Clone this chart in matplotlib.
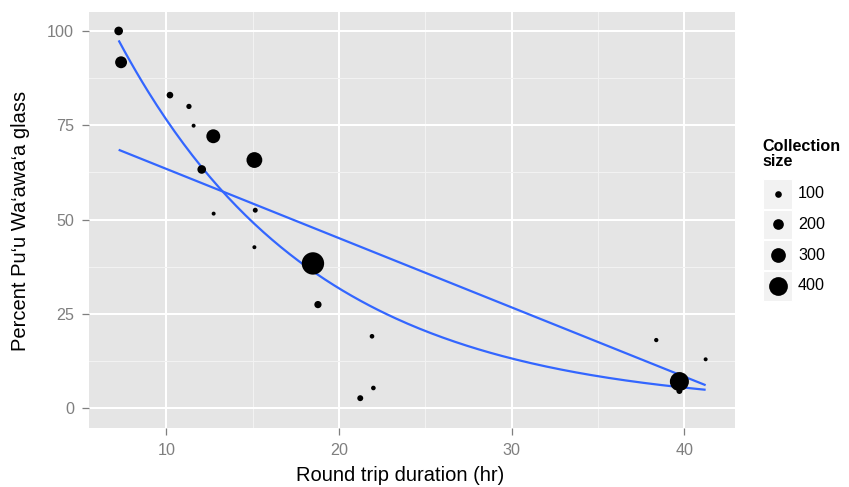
import numpy as np
import matplotlib
matplotlib.use("Agg")
import matplotlib.pyplot as plt
from matplotlib.patches import Rectangle
from matplotlib.ticker import MultipleLocator

plt.rcParams['font.family'] = ['Liberation Sans', 'DejaVu Sans']

# Observations: duration of round trip, share of Pu'u Wa'awa'a glass, collection size
duration_hr = [7.24, 7.38, 10.21, 11.31, 11.58, 12.72, 15.10, 12.05, 12.74, 15.15,
               15.10, 18.49, 18.78, 21.91, 21.99, 21.23, 38.37, 41.23, 39.71, 39.71]
pct_glass = [100.0, 91.7, 83.0, 80.0, 74.9, 72.1, 65.8, 63.3, 51.6, 52.5,
             42.7, 38.4, 27.5, 19.1, 5.4, 2.7, 18.1, 13.0, 7.1, 4.6]
collection_size = [150, 230, 100, 66, 34, 280, 327, 150, 34, 58,
                   34, 490, 115, 50, 50, 83, 42, 34, 407, 83]

size_breaks = [100, 200, 300, 400]
x_ticks = [10, 20, 30, 40]
y_ticks = [0, 25, 50, 75, 100]

# Fitted model coefficients
linear_fit = (81.8, -1.835)      # intercept, slope
exp_fit = (184.1, -0.0878)       # amplitude, rate

DPI = 100
W, H = 849, 487
PANEL = "#E5E5E5"
BLUE = "#3366FF"
GREY50 = "#7F7F7F"


def marker_area(v):
    """Scatter marker area (pt^2) for a collection size."""
    d_px = 2.6 + 0.0404 * np.asarray(v, dtype=float)
    return (d_px * 72.0 / DPI) ** 2


fig = plt.figure(figsize=(W / DPI, H / DPI), dpi=DPI)
fig.patch.set_facecolor("white")

left, right, top, bottom = 89.3, 735.0, 11.7, 428.0
ax = fig.add_axes([left / W, (H - bottom) / H, (right - left) / W, (bottom - top) / H])
ax.set_facecolor(PANEL)
for s in ax.spines.values():
    s.set_visible(False)

ax.set_xlim(5.54, 42.93)
ax.set_ylim(-5.2, 105.1)
ax.set_xticks(x_ticks)
ax.set_yticks(y_ticks)
ax.xaxis.set_minor_locator(MultipleLocator(5))
ax.yaxis.set_minor_locator(MultipleLocator(12.5))
ax.grid(which="major", color="white", lw=1.45, zorder=0)
ax.grid(which="minor", color="#F2F2F2", lw=0.75, zorder=0)
ax.set_axisbelow(True)
ax.tick_params(which="major", length=5, width=0.9, color=GREY50,
               labelcolor=GREY50, labelsize=11.6, pad=6)
ax.tick_params(which="minor", length=0)

# Fitted curves
xs = np.linspace(min(duration_hr), max(duration_hr), 200)
ax.plot(xs, linear_fit[0] + linear_fit[1] * xs, color=BLUE, lw=1.6, zorder=2,
        solid_capstyle="butt")
ax.plot(xs, exp_fit[0] * np.exp(exp_fit[1] * xs), color=BLUE, lw=1.6, zorder=2,
        solid_capstyle="butt")

# Points sized by collection size
ax.scatter(duration_hr, pct_glass, s=marker_area(collection_size), color="black",
           linewidths=0, zorder=3)

fig.text(400 / W, (H - 481) / H, "Round trip duration (hr)", ha="center",
         va="baseline", fontsize=14.5, color="black")
fig.text(21 / W, (H - 221) / H, "Percent Pu\u2018u Wa\u2018awa\u2018a glass",
         ha="center", va="center", rotation=90, fontsize=14.5, color="black")

# Legend
lg = fig.add_axes([0, 0, 1, 1], facecolor="none")
lg.set_xlim(0, W)
lg.set_ylim(H, 0)
lg.axis("off")
lg.text(762.7, 150.7, "Collection", fontsize=11.6, fontweight="bold",
        ha="left", va="baseline")
lg.text(762.7, 165.7, "size", fontsize=11.6, fontweight="bold",
        ha="left", va="baseline")
key = 29.5
for i, b in enumerate(size_breaks):
    y0 = 179 + i * 30.7
    lg.add_patch(Rectangle((763, y0), key, key, facecolor="#F2F2F2",
                           edgecolor="white", lw=0.8))
    lg.scatter([763 + key / 2], [y0 + key / 2], s=marker_area([b]), color="black",
               linewidths=0)
    lg.text(798, y0 + key / 2, str(b), fontsize=11.6, ha="left", va="center")

fig.savefig("out.png", dpi=DPI)
